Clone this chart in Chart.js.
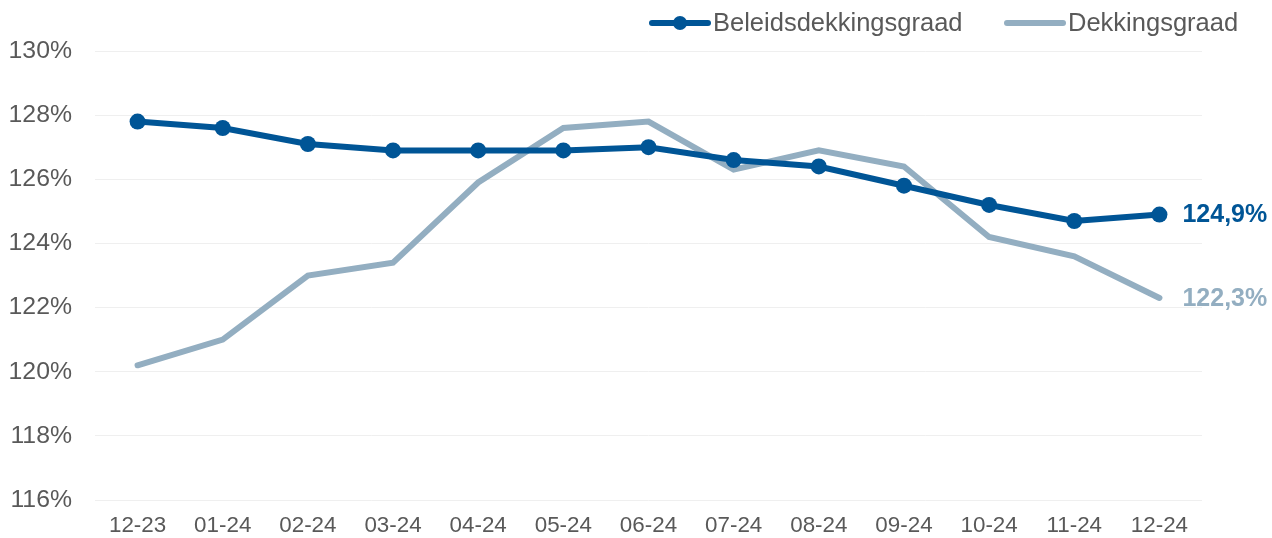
<!DOCTYPE html>
<html>
<head>
<meta charset="utf-8">
<script src="https://cdn.jsdelivr.net/npm/chart.js@4"></script>
<style>
  html, body { margin: 0; padding: 0; background: #fff; }
  #wrap { width: 1272px; height: 538px; position: relative; }
</style>
</head>
<body>
<div id="wrap"><canvas id="chart"></canvas></div>
<script>
const maanden = ["12-23", "01-24", "02-24", "03-24", "04-24", "05-24", "06-24",
  "07-24", "08-24", "09-24", "10-24", "11-24", "12-24"];
const beleidsdekkingsgraad = [127.8, 127.6, 127.1, 126.9, 126.9, 126.9, 127.0,
  126.6, 126.4, 125.8, 125.2, 124.7, 124.9];
const dekkingsgraad = [120.2, 121.0, 123.0, 123.4, 125.9, 127.6, 127.8,
  126.3, 126.9, 126.4, 124.2, 123.6, 122.3];

const DONKER = "#005596";
const LICHT = "#93AEC1";
const GRIJS = "#595959";
const FONT = "'Liberation Sans', Arial, sans-serif";

// label met de laatste waarde rechts naast elke lijn
const eindLabels = {
  id: "eindLabels",
  afterDatasetsDraw(chart) {
    const ctx = chart.ctx;
    ctx.save();
    ctx.font = "bold 25px " + FONT;
    ctx.textBaseline = "middle";
    ctx.textAlign = "left";
    chart.data.datasets.forEach((ds, i) => {
      const meta = chart.getDatasetMeta(i);
      const pt = meta.data[meta.data.length - 1];
      const v = ds.data[ds.data.length - 1];
      ctx.fillStyle = ds.borderColor;
      ctx.fillText(v.toFixed(1).replace(".", ",") + "%", pt.x + 23, pt.y + 1);
    });
    ctx.restore();
  },
};

// legenda bovenaan: lijn met (eventueel) stip en tekst
const legenda = {
  id: "legenda",
  afterDraw(chart) {
    const ctx = chart.ctx;
    const items = [
      { tekst: "Beleidsdekkingsgraad", kleur: DONKER, stip: true, x: 652 },
      { tekst: "Dekkingsgraad", kleur: LICHT, stip: false, x: 1007 },
    ];
    const y = 23;
    ctx.save();
    ctx.font = "25.5px " + FONT;
    ctx.textBaseline = "middle";
    items.forEach((it) => {
      ctx.strokeStyle = it.kleur;
      ctx.lineWidth = 6;
      ctx.lineCap = "round";
      ctx.beginPath();
      ctx.moveTo(it.x, y);
      ctx.lineTo(it.x + 56, y);
      ctx.stroke();
      if (it.stip) {
        ctx.fillStyle = it.kleur;
        ctx.beginPath();
        ctx.arc(it.x + 28, y, 7, 0, Math.PI * 2);
        ctx.fill();
      }
      ctx.fillStyle = GRIJS;
      ctx.fillText(it.tekst, it.x + 61, y + 1);
    });
    ctx.restore();
  },
};

new Chart(document.getElementById("chart"), {
  type: "line",
  data: {
    labels: maanden,
    datasets: [
      {
        label: "Beleidsdekkingsgraad",
        data: beleidsdekkingsgraad,
        borderColor: DONKER,
        backgroundColor: DONKER,
        borderWidth: 6,
        pointRadius: 8,
        pointHoverRadius: 8,
        pointBorderWidth: 0,
        tension: 0,
        order: 1,
      },
      {
        label: "Dekkingsgraad",
        data: dekkingsgraad,
        borderColor: LICHT,
        backgroundColor: LICHT,
        borderWidth: 6,
        pointRadius: 0,
        borderCapStyle: "round",
        tension: 0,
        order: 2,
      },
    ],
  },
  options: {
    responsive: true,
    maintainAspectRatio: false,
    animation: false,
    layout: { padding: { top: 51, right: 70, left: 0, bottom: 0 } },
    plugins: {
      legend: { display: false },
      tooltip: { enabled: false },
    },
    scales: {
      x: {
        offset: true,
        grid: { display: false, drawTicks: false },
        border: { display: false },
        afterFit: (s) => { s.height = 38; },
        ticks: {
          color: GRIJS,
          font: { family: FONT, size: 22.4 },
          padding: 12,
          maxRotation: 0,
          autoSkip: false,
        },
      },
      y: {
        min: 116,
        max: 130,
        grid: { color: "#EFEFEF", lineWidth: 1, drawTicks: false },
        border: { display: false },
        afterFit: (s) => { s.width = 95; },
        ticks: {
          stepSize: 2,
          color: GRIJS,
          font: { family: FONT, size: 24.8 },
          padding: 23,
          callback: (v) => v + "%",
        },
      },
    },
  },
  plugins: [eindLabels, legenda],
});
</script>
</body>
</html>
